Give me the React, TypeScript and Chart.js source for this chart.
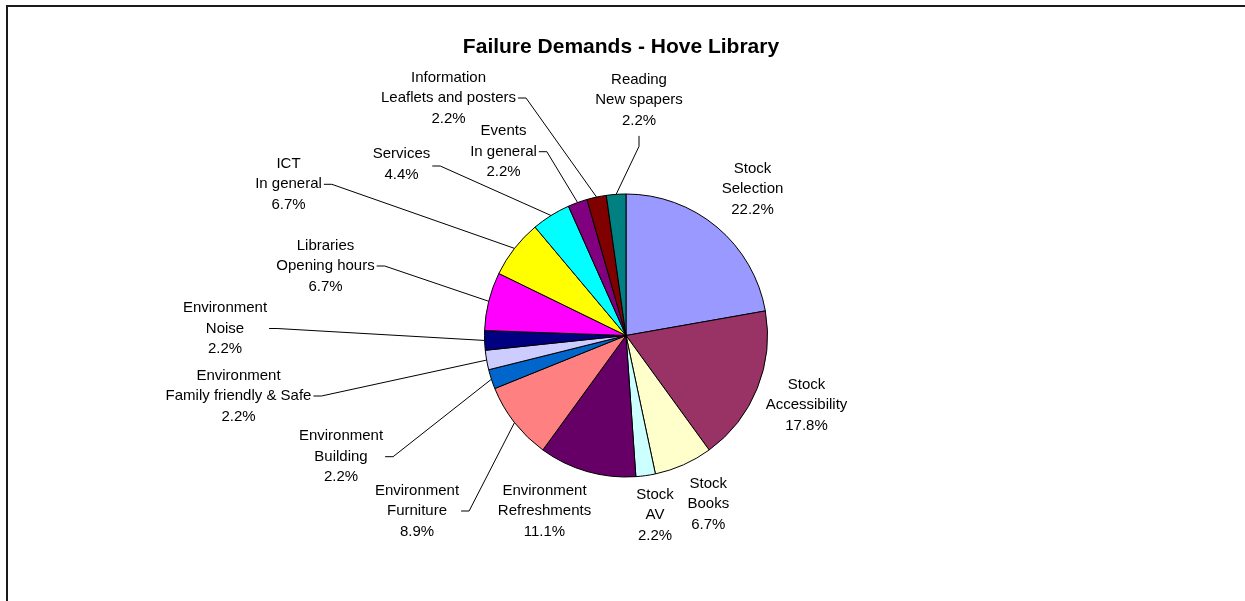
import React, { useEffect, useRef } from "react";
import { Chart, registerables } from "chart.js";

Chart.register(...registerables);

const TITLE = "Failure Demands - Hove Library";

const categories: string[][] = [
  ["Stock", "Selection"],
  ["Stock", "Accessibility"],
  ["Stock", "Books"],
  ["Stock", "AV"],
  ["Environment", "Refreshments"],
  ["Environment", "Furniture"],
  ["Environment", "Building"],
  ["Environment", "Family friendly & Safe"],
  ["Environment", "Noise"],
  ["Libraries", "Opening hours"],
  ["ICT", "In general"],
  ["Services"],
  ["Events", "In general"],
  ["Information", "Leaflets and posters"],
  ["Reading", "New spapers"],
];

const counts: number[] = [10, 8, 3, 1, 5, 4, 1, 1, 1, 3, 3, 2, 1, 1, 1];

const sliceColors: string[] = [
  "#9999FF", "#993366", "#FFFFCC", "#CCFFFF", "#660066",
  "#FF8080", "#0066CC", "#CCCCFF", "#000080", "#FF00FF",
  "#FFFF00", "#00FFFF", "#800080", "#800000", "#008080",
];

// Layout only: label centre offset from the pie centre (px) and leader-line flag.
const labelOffsets: [number, number][] = [
  [126.5, -146.2],
  [180.5, 69.5],
  [82.3, 168.5],
  [29, 179.5],
  [-81.5, 175.5],
  [-209, 175.5],
  [-285, 121.2],
  [-387.5, 60.5],
  [-401, -7],
  [-300.5, -69.5],
  [-337.5, -151.2],
  [-224.5, -171],
  [-122.5, -183.8],
  [-177.5, -237.5],
  [13, -235.5],
];
const labelLeaders: boolean[] = [
  false, false, false, false, false,
  true, true, true, true, true,
  true, true, true, true, true,
];

const FONT = '"Liberation Sans", Arial, sans-serif';
const LINE_H = 20.6;

const labelPlugin = {
  id: "excelLabels",
  afterDraw(chart: any) {
    const ctx = chart.ctx as CanvasRenderingContext2D;
    const W = chart.width;
    const H = chart.height;
    ctx.save();

    // frame
    ctx.strokeStyle = "#1a1a1a";
    ctx.lineWidth = 2;
    ctx.beginPath();
    ctx.moveTo(7, H + 5);
    ctx.lineTo(7, 6);
    ctx.lineTo(W + 5, 6);
    ctx.stroke();

    // title
    ctx.fillStyle = "#000";
    ctx.font = `bold 21px ${FONT}`;
    ctx.textAlign = "center";
    ctx.textBaseline = "alphabetic";
    ctx.fillText(TITLE, 621, 53);

    const meta = chart.getDatasetMeta(0);
    const total = counts.reduce((a, b) => a + b, 0);
    ctx.font = `15px ${FONT}`;
    ctx.textBaseline = "middle";

    meta.data.forEach((arc: any, i: number) => {
      const p = arc.getProps(["x", "y", "startAngle", "endAngle", "outerRadius"], true);
      const cx = p.x + labelOffsets[i][0];
      const cy = p.y + labelOffsets[i][1];
      const pct = ((counts[i] / total) * 100).toFixed(1) + "%";
      const lines = [...categories[i], pct];
      const n = lines.length;
      let maxW = 0;
      lines.forEach((t, k) => {
        const y = cy + (k - (n - 1) / 2) * LINE_H;
        ctx.fillStyle = "#000";
        ctx.fillText(t, cx, y);
        maxW = Math.max(maxW, ctx.measureText(t).width);
      });

      if (labelLeaders[i]) {
        const mid = (p.startAngle + p.endAngle) / 2;
        const ax = p.x + Math.cos(mid) * p.outerRadius;
        const ay = p.y + Math.sin(mid) * p.outerRadius;
        const right = cx + maxW / 2 + 2;
        ctx.strokeStyle = "#000";
        ctx.lineWidth = 1;
        ctx.beginPath();
        if (ax > right) {
          const sy = n === 2 ? cy + 1.5 : cy;
          ctx.moveTo(right, sy);
          ctx.lineTo(right + 8, sy);
          ctx.lineTo(ax, ay);
        } else {
          const bottom = cy + (n / 2) * LINE_H + 5;
          ctx.moveTo(cx, bottom);
          ctx.lineTo(cx, bottom + 10.5);
          ctx.lineTo(ax, ay);
        }
        ctx.stroke();
      }
    });
    ctx.restore();
  },
};

export default function App() {
  const ref = useRef<HTMLCanvasElement | null>(null);
  useEffect(() => {
    if (!ref.current) return;
    const chart = new Chart(ref.current, {
      type: "pie",
      data: {
        labels: categories,
        datasets: [
          {
            data: counts,
            backgroundColor: sliceColors,
            borderColor: "#000",
            borderWidth: 1,
          },
        ],
      },
      options: {
        responsive: false,
        animation: false,
        devicePixelRatio: 1,
        layout: {
          padding: { left: 484, right: 477, top: 193.5, bottom: 123.5 },
        },
        plugins: {
          legend: { display: false },
          title: { display: false },
          tooltip: { enabled: false },
        },
      },
      plugins: [labelPlugin],
    });
    return () => chart.destroy();
  }, []);
  return (
    <div style={{ position: "absolute", left: 0, top: 0, width: 1245, height: 601, background: "#fff" }}>
      <canvas ref={ref} width={1245} height={601} style={{ display: "block" }} />
    </div>
  );
}
